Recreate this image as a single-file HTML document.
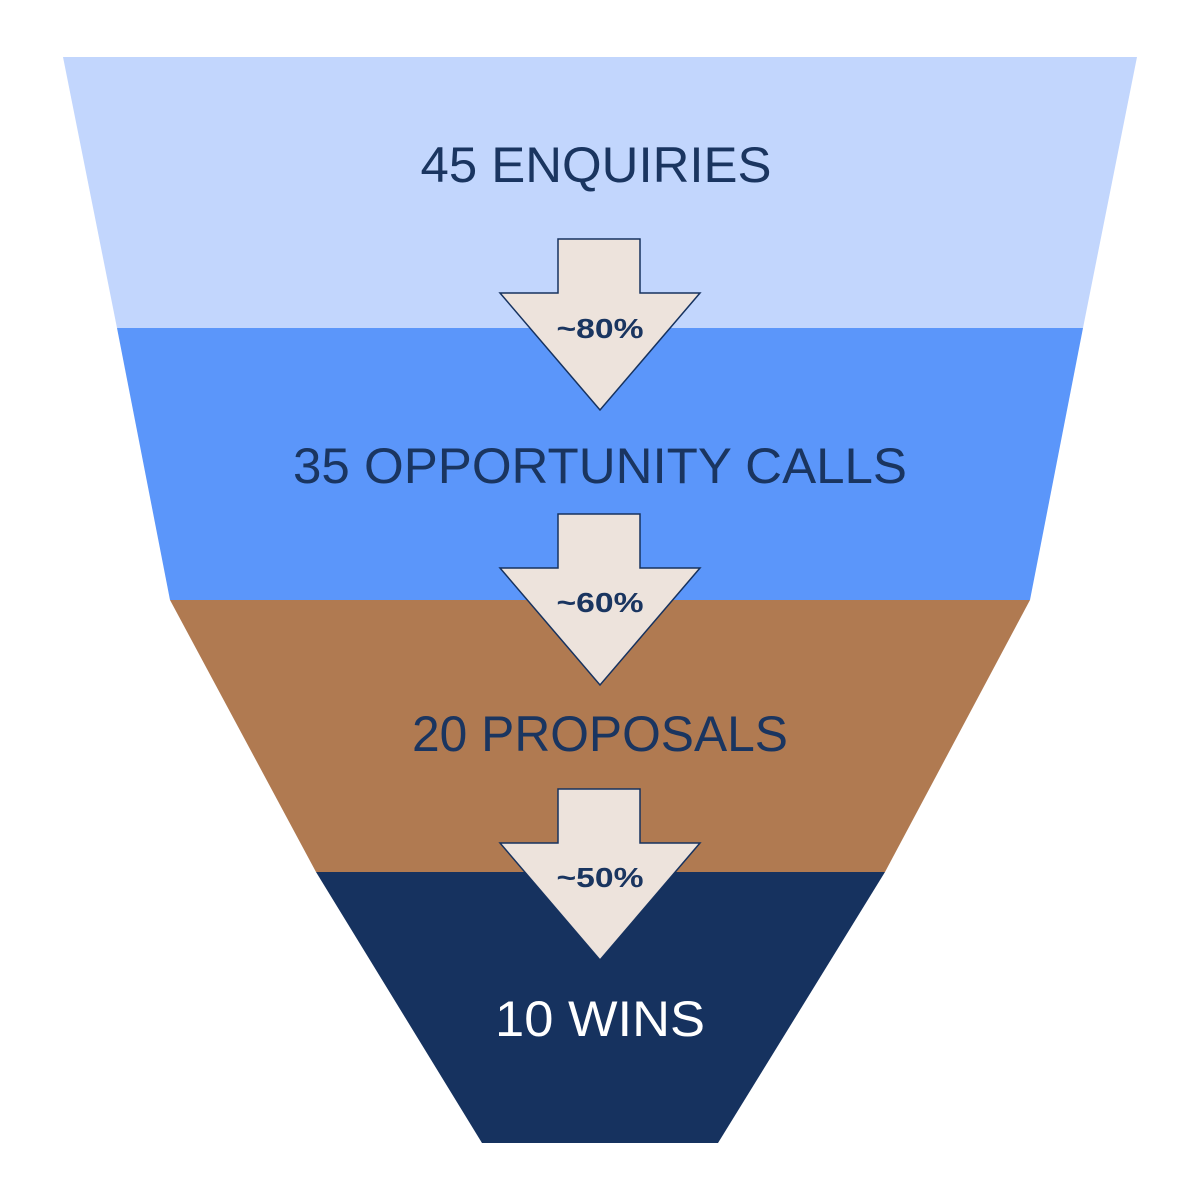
<!DOCTYPE html>
<html><head><style>body{margin:0;background:#fff}svg{display:block}</style></head><body>
<svg width="1200" height="1200" viewBox="0 0 1200 1200" xmlns="http://www.w3.org/2000/svg">
<polygon points="63,57 1137,57 1083,328 117,328" fill="#c2d6fd"/>
<polygon points="117,328 1083,328 1030,600 170,600" fill="#5b96fa"/>
<polygon points="170,600 1030,600 885,872 316,872" fill="#b07a51"/>
<polygon points="316,872 885,872 718,1143 482,1143" fill="#16325f"/>
<g font-family="Liberation Sans, sans-serif" font-size="50" text-anchor="middle" fill="#1a3560">
<text x="596" y="182" textLength="351" lengthAdjust="spacingAndGlyphs">45 ENQUIRIES</text>
<text x="600" y="483" textLength="614" lengthAdjust="spacingAndGlyphs">35 OPPORTUNITY CALLS</text>
<text x="600" y="751" textLength="376" lengthAdjust="spacingAndGlyphs">20 PROPOSALS</text>
<text x="600" y="1036" fill="#ffffff" textLength="210" lengthAdjust="spacingAndGlyphs">10 WINS</text>
</g>
<g fill="#ede3dc" stroke="#16325f" stroke-width="1.5">
<polygon points="558,239 640,239 640,293 700,293 600,410 500,293 558,293"/>
<polygon points="558,514 640,514 640,568 700,568 600,685 500,568 558,568"/>
<polygon points="558,789 640,789 640,843 700,843 600,960 500,843 558,843"/>
</g>
<g font-family="Liberation Sans, sans-serif" font-size="28" font-weight="bold" text-anchor="middle" fill="#1a3560">
<text x="600" y="338" textLength="87" lengthAdjust="spacingAndGlyphs">~80%</text>
<text x="600" y="612" textLength="87" lengthAdjust="spacingAndGlyphs">~60%</text>
<text x="600" y="887" textLength="87" lengthAdjust="spacingAndGlyphs">~50%</text>
</g>
</svg>
</body></html>
